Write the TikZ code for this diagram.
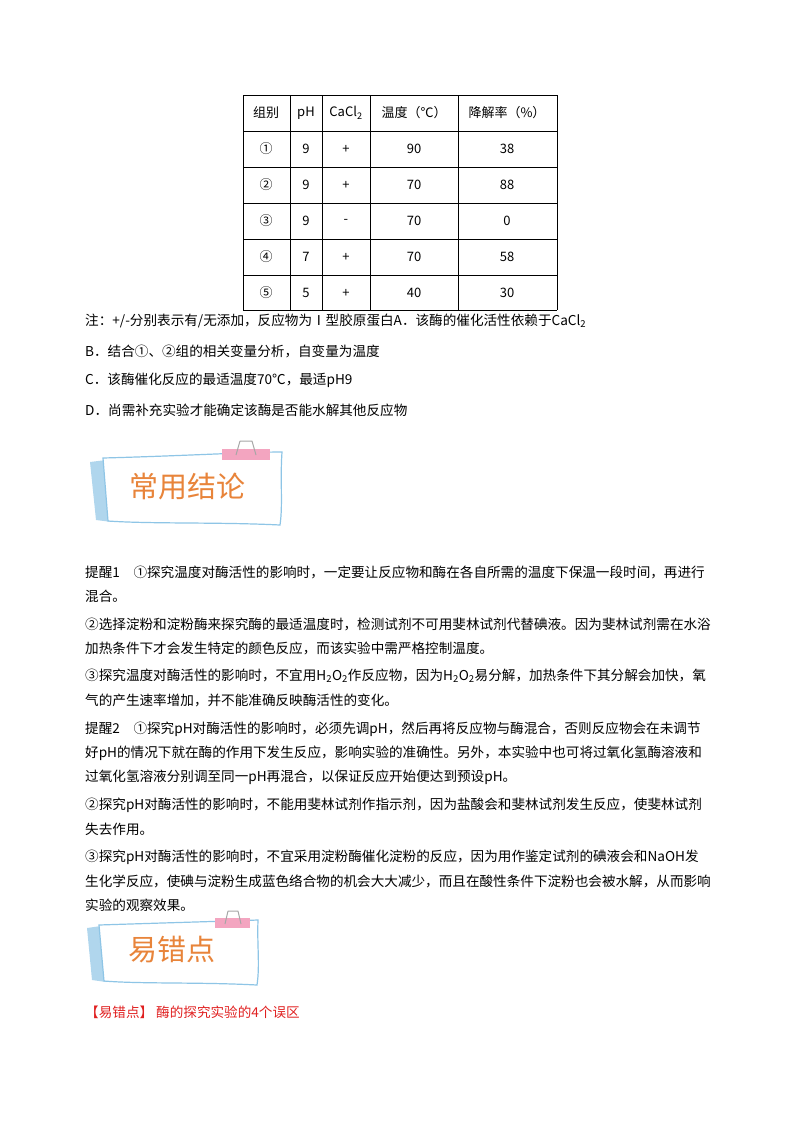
\documentclass[tikz,border=0pt]{standalone}
\usepackage{fontspec}
\setmainfont{Liberation Serif}
\newfontfamily\cjk{Noto Sans CJK SC}
\usepackage{tikz}
\definecolor{bannerblue}{HTML}{8EC5E6}
\definecolor{bannerpink}{HTML}{F3A5C0}
\definecolor{bannertext}{HTML}{E8843A}
\definecolor{errred}{HTML}{E02020}
\begin{document}
\begin{tikzpicture}[x=1pt,y=-1pt,
        line/.style={anchor=west, inner sep=0pt, font=\fontsize{13.6}{15}\selectfont\cjk},
        cell/.style={inner sep=0pt, font=\fontsize{13}{15}\selectfont\cjk},
        grid/.style={line width=0.7pt},
        bannerbox/.style={draw=bannerblue, line width=1.2pt, fill=white},
        bannerword/.style={text=bannertext, font=\fontsize{29}{31}\selectfont\cjk}
    ]
    \useasboundingbox (0,0) rectangle (800,1132);

    % table
    \foreach \y in {95,131,167,203,239,275,310}
        \draw[grid] (243,\y) -- (557,\y);
    \foreach \x in {243,290,322,370,458,557}
        \draw[grid] (\x,95) -- (\x,310);
    \node[cell] (h1) at (266,113) {组别};
    \node[cell] (h2) at (306,113) {pH};
    \node[cell] (h3) at (346,113) {CaCl\textsubscript{2}};
    \node[cell] (h4) at (414,113) {温度（℃）};
    \node[cell] (h5) at (507,113) {降解率（\%）};
    \foreach \g/\p/\c/\t/\r [count=\i] in {①/9/+/90/38, ②/9/+/70/88, ③/9/-/70/0, ④/7/+/70/58, ⑤/5/+/40/30} {
        \pgfmathsetmacro\yy{113+36*\i}
        \node[cell] (g\i) at (266,\yy) {\g};
        \node[cell] (p\i) at (306,\yy) {\p};
        \node[cell] (c\i) at (346,\yy) {\c};
        \node[cell] (t\i) at (414,\yy) {\t};
        \node[cell] (r\i) at (507,\yy) {\r};
    }

    % options
    \node[line] (na) at (85,321) {注：+/-分别表示有/无添加，反应物为Ⅰ型胶原蛋白A．该酶的催化活性依赖于CaCl\textsubscript{2}};
    \node[line] (nb) at (85,351) {B．结合①、②组的相关变量分析，自变量为温度};
    \node[line] (nc) at (85,380) {C．该酶催化反应的最适温度70℃，最适pH9};
    \node[line] (nd) at (85,410) {D．尚需补充实验才能确定该酶是否能水解其他反应物};

    % banner 1
    \fill[bannerblue!70] (90,462) -- (106,460) -- (112,522) -- (96,520) -- cycle;
    \draw[bannerbox] (103,458) .. controls (180,456) and (250,452) .. (282,452)
        .. controls (280,480) and (283,505) .. (280,525)
        .. controls (220,522) and (150,524) .. (108,521) -- cycle;
    \fill[bannerpink] (222,449) rectangle (270,460);
    \draw[gray!70, line width=1pt] (240,441) -- (236,455) (252,441) -- (256,455) (240,441) -- (252,441);
    \node[bannerword] (b1) at (187,487) {常用结论};

    % paragraphs
    \node[line] (l1) at (85,572) {提醒1\quad ①探究温度对酶活性的影响时，一定要让反应物和酶在各自所需的温度下保温一段时间，再进行};
    \node[line] (l2) at (85,596) {混合。};
    \node[line] (l3) at (85,624) {②选择淀粉和淀粉酶来探究酶的最适温度时，检测试剂不可用斐林试剂代替碘液。因为斐林试剂需在水浴};
    \node[line] (l4) at (85,648) {加热条件下才会发生特定的颜色反应，而该实验中需严格控制温度。};
    \node[line] (l5) at (85,676) {③探究温度对酶活性的影响时，不宜用H\textsubscript{2}O\textsubscript{2}作反应物，因为H\textsubscript{2}O\textsubscript{2}易分解，加热条件下其分解会加快，氧};
    \node[line] (l6) at (85,700) {气的产生速率增加，并不能准确反映酶活性的变化。};
    \node[line] (l7) at (85,729) {提醒2\quad ①探究pH对酶活性的影响时，必须先调pH，然后再将反应物与酶混合，否则反应物会在未调节};
    \node[line] (l8) at (85,753) {好pH的情况下就在酶的作用下发生反应，影响实验的准确性。另外，本实验中也可将过氧化氢酶溶液和};
    \node[line] (l9) at (85,777) {过氧化氢溶液分别调至同一pH再混合，以保证反应开始便达到预设pH。};
    \node[line] (l10) at (85,805) {②探究pH对酶活性的影响时，不能用斐林试剂作指示剂，因为盐酸会和斐林试剂发生反应，使斐林试剂};
    \node[line] (l11) at (85,829) {失去作用。};
    \node[line] (l12) at (85,857) {③探究pH对酶活性的影响时，不宜采用淀粉酶催化淀粉的反应，因为用作鉴定试剂的碘液会和NaOH发};
    \node[line] (l13) at (85,881) {生化学反应，使碘与淀粉生成蓝色络合物的机会大大减少，而且在酸性条件下淀粉也会被水解，从而影响};
    \node[line] (l14) at (85,905) {实验的观察效果。};

    % banner 2
    \fill[bannerblue!70] (87,928) -- (101,926) -- (106,982) -- (92,980) -- cycle;
    \draw[bannerbox] (99,925) .. controls (160,923) and (230,921) .. (258,920)
        .. controls (257,945) and (260,965) .. (257,985)
        .. controls (200,982) and (140,984) .. (104,981) -- cycle;
    \fill[bannerpink] (215,918) rectangle (250,928);
    \draw[gray!70, line width=1pt] (228,911) -- (225,924) (238,911) -- (241,924) (228,911) -- (238,911);
    \node[bannerword] (b2) at (172,950) {易错点};

    \node[line, text=errred] (err) at (85,1012) {【易错点】\ 酶的探究实验的4个误区};
\end{tikzpicture}
\end{document}
